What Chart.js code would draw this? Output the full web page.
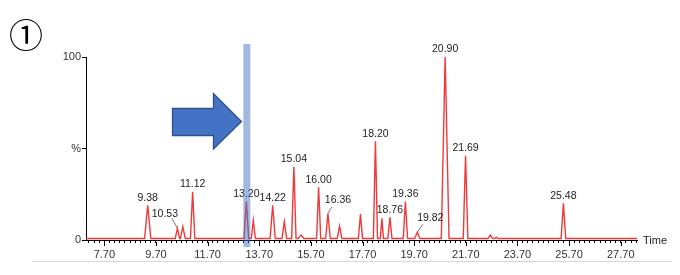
<!DOCTYPE html>
<html><head><meta charset="utf-8">
<script src="https://cdn.jsdelivr.net/npm/chart.js@4.4.1/dist/chart.umd.min.js"></script>
<style>html,body{margin:0;padding:0;background:#fff;} #wrap{position:relative;width:680px;height:275px;}</style>
</head><body><div id="wrap"><canvas id="c" width="680" height="275"></canvas></div>
<script>
// ---- data ----
const peakTimes   = [9.38, 10.53, 10.74, 11.12, 13.20, 13.47, 14.22, 14.67, 15.04, 15.32, 16.00, 16.36, 16.81, 17.62, 18.20, 18.45, 18.76, 19.36, 19.82, 20.90, 21.69, 22.65, 22.88, 25.48];
const peakHeights = [19, 6.4, 7.3, 26.4, 21, 10.8, 19, 10, 40, 2.7, 28.8, 14.6, 7.6, 14.2, 54, 11.8, 12.4, 21, 4.2, 100, 46, 2.7, 1.5, 20];
const peakWidths  = [0.24, 0.17, 0.19, 0.17, 0.18, 0.16, 0.2, 0.18, 0.17, 0.22, 0.16, 0.18, 0.18, 0.16, 0.16, 0.12, 0.16, 0.17, 0.2, 0.3, 0.18, 0.18, 0.12, 0.18];
const peakLabels  = ['9.38','10.53','','11.12','13.20','','14.22','','15.04','','16.00','16.36','','','18.20','','18.76','19.36','19.82','20.90','21.69','','','25.48'];
const baselineLevel = 0.8;
const timeRange   = [6.99, 28.33];
const xTickLabels = ['7.70','9.70','11.70','13.70','15.70','17.70','19.70','21.70','23.70','25.70','27.70'];
const xMinorStart = 7.1, xMinorStep = 0.2;
const yTickValues = [0, 50, 100];
const yTickLabels = ['0', '%', '100'];
const markedPeak  = '13.20';

// ---- styles ----
const FONT = '"Liberation Sans", Arial, Helvetica, sans-serif';
const labelOffsets = {
  '10.53': {dx:-12.5, dy:-14.5, leader:[-5.5,-10]},
  '16.36': {dx: 10,   dy:-13.5, leader:[4,-6.5]},
  '19.82': {dx: 13,   dy:-14,   leader:[5.5,-8]}
};

// build the trace table for the library
const trace = [{x: timeRange[0], y: baselineLevel}];
peakTimes.map((t,i)=>i).sort((a,b)=>peakTimes[a]-peakTimes[b]).forEach(i=>{
  const t = peakTimes[i], w = peakWidths[i] / 2;
  trace.push({x: t - w, y: baselineLevel});
  trace.push({x: t, y: peakHeights[i]});
  trace.push({x: t + w, y: baselineLevel});
});
trace.push({x: timeRange[1], y: baselineLevel});

const overlay = {
  id: 'overlay',
  afterDatasetsDraw(chart) {
    const {ctx, scales: {x, y}, chartArea} = chart;
    ctx.save();
    // peak labels
    ctx.font = '10.5px ' + FONT;
    ctx.fillStyle = '#222';
    ctx.textAlign = 'center';
    ctx.textBaseline = 'middle';
    peakTimes.forEach((t, i) => {
      const lab = peakLabels[i];
      if (!lab) return;
      const px = x.getPixelForValue(t), py = y.getPixelForValue(peakHeights[i]);
      const off = labelOffsets[lab] || {dx: 0, dy: -7.5};
      ctx.fillText(lab, px + off.dx, py + off.dy);
      if (off.leader) {
        ctx.strokeStyle = '#555'; ctx.lineWidth = 0.8;
        ctx.beginPath();
        ctx.moveTo(px + off.leader[0], py + off.leader[1]);
        ctx.lineTo(px, py);
        ctx.stroke();
      }
    });
    // longer major ticks on x axis
    ctx.strokeStyle = '#000'; ctx.lineWidth = 1;
    xTickLabels.forEach(l => {
      const px = Math.round(x.getPixelForValue(parseFloat(l))) + 0.5;
      ctx.beginPath(); ctx.moveTo(px, chartArea.bottom + 2); ctx.lineTo(px, chartArea.bottom + 6); ctx.stroke();
    });
    // "Time" axis title
    ctx.font = '11px ' + FONT; ctx.fillStyle = '#222'; ctx.textAlign = 'left';
    ctx.fillText('Time', chartArea.right + 6, chartArea.bottom + 1);
    // translucent marker bar on the 13.20 peak
    const mi = peakLabels.indexOf(markedPeak);
    const bx = x.getPixelForValue(peakTimes[mi]);
    ctx.fillStyle = 'rgba(68,114,196,0.5)';
    ctx.fillRect(bx - 3, 44, 7, 203);
    // arrow
    ctx.beginPath();
    ctx.moveTo(172.5, 108.5); ctx.lineTo(213.5, 108.5); ctx.lineTo(213.5, 93.5);
    ctx.lineTo(241.5, 121.5); ctx.lineTo(213.5, 149); ctx.lineTo(213.5, 135.5);
    ctx.lineTo(172.5, 135.5); ctx.closePath();
    ctx.fillStyle = '#4472C4'; ctx.fill();
    ctx.strokeStyle = '#2F528F'; ctx.lineWidth = 1.3; ctx.stroke();
    // circled number
    ctx.font = '34px "Noto Sans CJK JP", "DejaVu Sans", sans-serif';
    ctx.fillStyle = '#000'; ctx.textAlign = 'center'; ctx.textBaseline = 'middle';
    ctx.fillText('①', 26, 35);
    // faint frame line at bottom
    ctx.strokeStyle = '#d8d8d8'; ctx.lineWidth = 1;
    ctx.beginPath(); ctx.moveTo(32, 261.5); ctx.lineTo(672, 261.5); ctx.stroke();
    ctx.restore();
  }
};

new Chart(document.getElementById('c'), {
  type: 'line',
  data: { datasets: [{ data: trace, borderColor: '#f03a3a', borderWidth: 1.4, pointRadius: 0, tension: 0, fill: false }] },
  options: {
    responsive: false, animation: false, devicePixelRatio: 1,
    layout: { padding: { top: 57, right: 43, left: 0, bottom: 0 } },
    plugins: { legend: { display: false }, tooltip: { enabled: false } },
    scales: {
      x: {
        type: 'linear', min: timeRange[0], max: timeRange[1],
        afterFit: s => { s.height = 35; },
        afterBuildTicks: s => {
          const t = [];
          for (let k = 0; xMinorStart + k * xMinorStep <= timeRange[1] + 1e-9; k++) t.push({value: +(xMinorStart + k * xMinorStep).toFixed(2)});
          s.ticks = t;
        },
        ticks: {
          autoSkip: false, maxRotation: 0, minRotation: 0, padding: 5,
          color: '#333', font: { family: FONT, size: 11 },
          callback: v => xTickLabels.find(l => Math.abs(parseFloat(l) - v) < 1e-6) || ''
        },
        grid: { drawOnChartArea: false, drawTicks: true, tickLength: 3, tickColor: '#000' },
        border: { color: '#000', width: 1 }
      },
      y: {
        min: 0, max: 100,
        afterFit: s => { s.width = 86; },
        afterBuildTicks: s => { s.ticks = yTickValues.map(v => ({value: v})); },
        ticks: {
          padding: 1, color: '#333', font: { family: FONT, size: 11 },
          callback: v => yTickLabels[yTickValues.indexOf(v)]
        },
        grid: { drawOnChartArea: false, drawTicks: true, tickLength: 4, tickColor: '#000' },
        border: { color: '#000', width: 1 }
      }
    }
  },
  plugins: [overlay]
});
</script></body></html>
